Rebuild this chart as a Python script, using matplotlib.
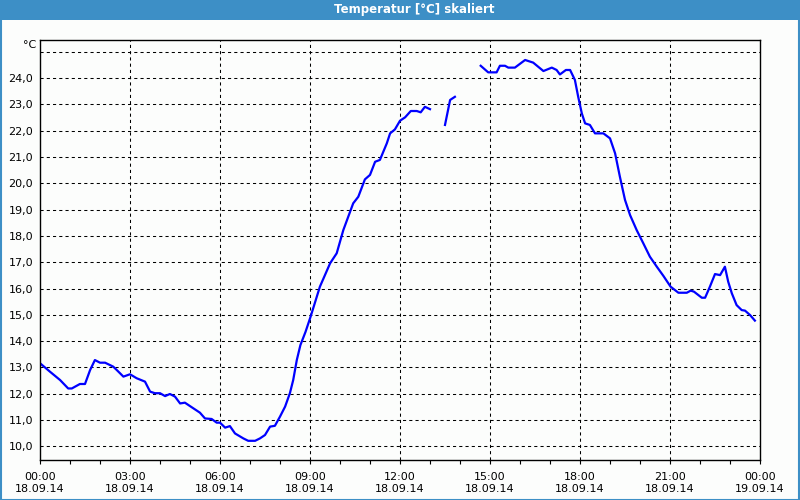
import matplotlib.pyplot as plt
from matplotlib.patches import Rectangle
from matplotlib.ticker import MultipleLocator, FixedLocator
import numpy as np

# ============================================================
# DATEN (Stunden ab 18.09.14 00:00, Temperatur in °C)
# ============================================================

stunden_1 = [0.0, 0.33, 0.67, 0.94, 1.06, 1.33, 1.5, 1.67, 1.83, 2.0, 2.17, 2.44,
             2.56, 2.78, 3.0, 3.22, 3.5, 3.67, 3.83, 4.0, 4.17, 4.33, 4.5, 4.67,
             4.83, 5.0, 5.33, 5.5, 5.72, 5.89, 6.0, 6.17, 6.33, 6.5, 6.78, 6.94,
             7.17, 7.33, 7.5, 7.67, 7.83, 8.0, 8.17, 8.33, 8.44, 8.56, 8.68, 8.85,
             9.02, 9.33, 9.67, 9.89, 10.11, 10.44, 10.61, 10.83, 11.0, 11.17, 11.33,
             11.56, 11.67, 11.83, 12.0, 12.17, 12.36, 12.56, 12.69, 12.83, 13.0]
temp_1 = [13.16, 12.84, 12.52, 12.2, 12.2, 12.37, 12.37, 12.9, 13.28, 13.18, 13.18, 13.03,
          12.9, 12.65, 12.74, 12.59, 12.46, 12.08, 12.02, 12.02, 11.91, 11.99, 11.89, 11.63,
          11.66, 11.53, 11.28, 11.06, 11.04, 10.9, 10.9, 10.71, 10.77, 10.49, 10.3, 10.21,
          10.21, 10.3, 10.43, 10.75, 10.78, 11.13, 11.51, 12.02, 12.52, 13.28, 13.85, 14.35,
          14.93, 16.07, 16.96, 17.34, 18.22, 19.24, 19.49, 20.15, 20.32, 20.82, 20.89,
          21.52, 21.9, 22.05, 22.38, 22.51, 22.75, 22.75, 22.7, 22.91, 22.82]

stunden_2 = [13.5, 13.67, 13.83]
temp_2 = [22.22, 23.17, 23.29]

stunden_3 = [14.69, 14.94, 15.22, 15.33, 15.5, 15.61, 15.83, 16.17, 16.44, 16.78, 17.06,
             17.22, 17.33, 17.53, 17.67, 17.83, 17.94, 18.06, 18.17, 18.33, 18.5, 18.78,
             19.0, 19.17, 19.33, 19.5, 19.67, 19.89, 20.11, 20.33, 20.56, 20.78, 21.02,
             21.28, 21.56, 21.69, 21.8, 22.06, 22.17, 22.33, 22.5, 22.67, 22.83, 22.94,
             23.06, 23.22, 23.39, 23.5, 23.67, 23.83]
temp_3 = [24.47, 24.22, 24.22, 24.47, 24.47, 24.4, 24.4, 24.69, 24.59, 24.27, 24.4,
          24.31, 24.14, 24.31, 24.31, 23.93, 23.29, 22.66, 22.28, 22.22, 21.9, 21.9,
          21.71, 21.14, 20.25, 19.37, 18.79, 18.22, 17.72, 17.21, 16.83, 16.48, 16.07,
          15.84, 15.84, 15.92, 15.88, 15.65, 15.65, 16.07, 16.55, 16.51, 16.83, 16.26,
          15.82, 15.37, 15.18, 15.16, 14.99, 14.78]

x_ticks = [0, 3, 6, 9, 12, 15, 18, 21, 24]
x_labels = ["00:00\n18.09.14", "03:00\n18.09.14", "06:00\n18.09.14", "09:00\n18.09.14",
            "12:00\n18.09.14", "15:00\n18.09.14", "18:00\n18.09.14", "21:00\n18.09.14",
            "00:00\n19.09.14"]
y_ticks = [10, 11, 12, 13, 14, 15, 16, 17, 18, 19, 20, 21, 22, 23, 24]
y_labels = [f"{v},0" for v in y_ticks]

titel = "Temperatur [°C] skaliert"
blau_rahmen = "#3d8fc6"

# ============================================================
# PLOT
# ============================================================

plt.rcParams["font.family"] = ["DejaVu Sans"]

fig = plt.figure(figsize=(8, 5), dpi=100, facecolor="#fcfdfc")

# Titelleiste und Rahmen
fig.patches.append(Rectangle((0, 1 - 20 / 500), 1, 20 / 500, transform=fig.transFigure,
                             facecolor=blau_rahmen, edgecolor="none", zorder=0))
fig.patches.append(Rectangle((0.5 / 800, 0.5 / 500), 1 - 2 / 800, 1 - 2 / 500, transform=fig.transFigure,
                             facecolor="none", edgecolor=blau_rahmen, linewidth=1.5, zorder=1))
fig.text(414 / 800, 1 - 10 / 500, titel, color="white", fontsize=8.5, fontweight="bold",
         ha="center", va="center")

ax = fig.add_axes([40 / 800, 40 / 500, 720 / 800, 420 / 500])
ax.set_facecolor("#fcfdfc")

for xs, ys in [(stunden_1, temp_1), (stunden_2, temp_2), (stunden_3, temp_3)]:
    ax.plot(xs, ys, color="#0000ff", linewidth=1.6, solid_joinstyle="round")

ax.set_xlim(0, 24)
ax.set_ylim(9.48, 25.45)

ax.xaxis.set_major_locator(FixedLocator(x_ticks))
ax.set_xticklabels(x_labels)
ax.xaxis.set_minor_locator(MultipleLocator(1))
ax.set_yticks(y_ticks)
ax.set_yticklabels(y_labels)

ax.tick_params(axis="x", which="both", direction="out", length=3, width=0.8,
               labelsize=8, pad=6)
ax.tick_params(axis="y", which="both", length=0, labelsize=8, pad=5)

# Gitter: vertikal alle 3 h, horizontal jedes Grad inkl. 25
for gx in x_ticks[1:-1]:
    ax.axvline(gx, color="black", linewidth=0.75, linestyle=(0, (3, 3)), zorder=1)
for gy in y_ticks + [25]:
    ax.axhline(gy, color="black", linewidth=0.75, linestyle=(0, (3, 3)), zorder=1)

for spine in ax.spines.values():
    spine.set_linewidth(1)
    spine.set_color("black")

fig.text(36 / 800, 1 - 45 / 500, "°C", fontsize=8, ha="right", va="center")

fig.savefig("out.png", dpi=100, facecolor=fig.get_facecolor())
